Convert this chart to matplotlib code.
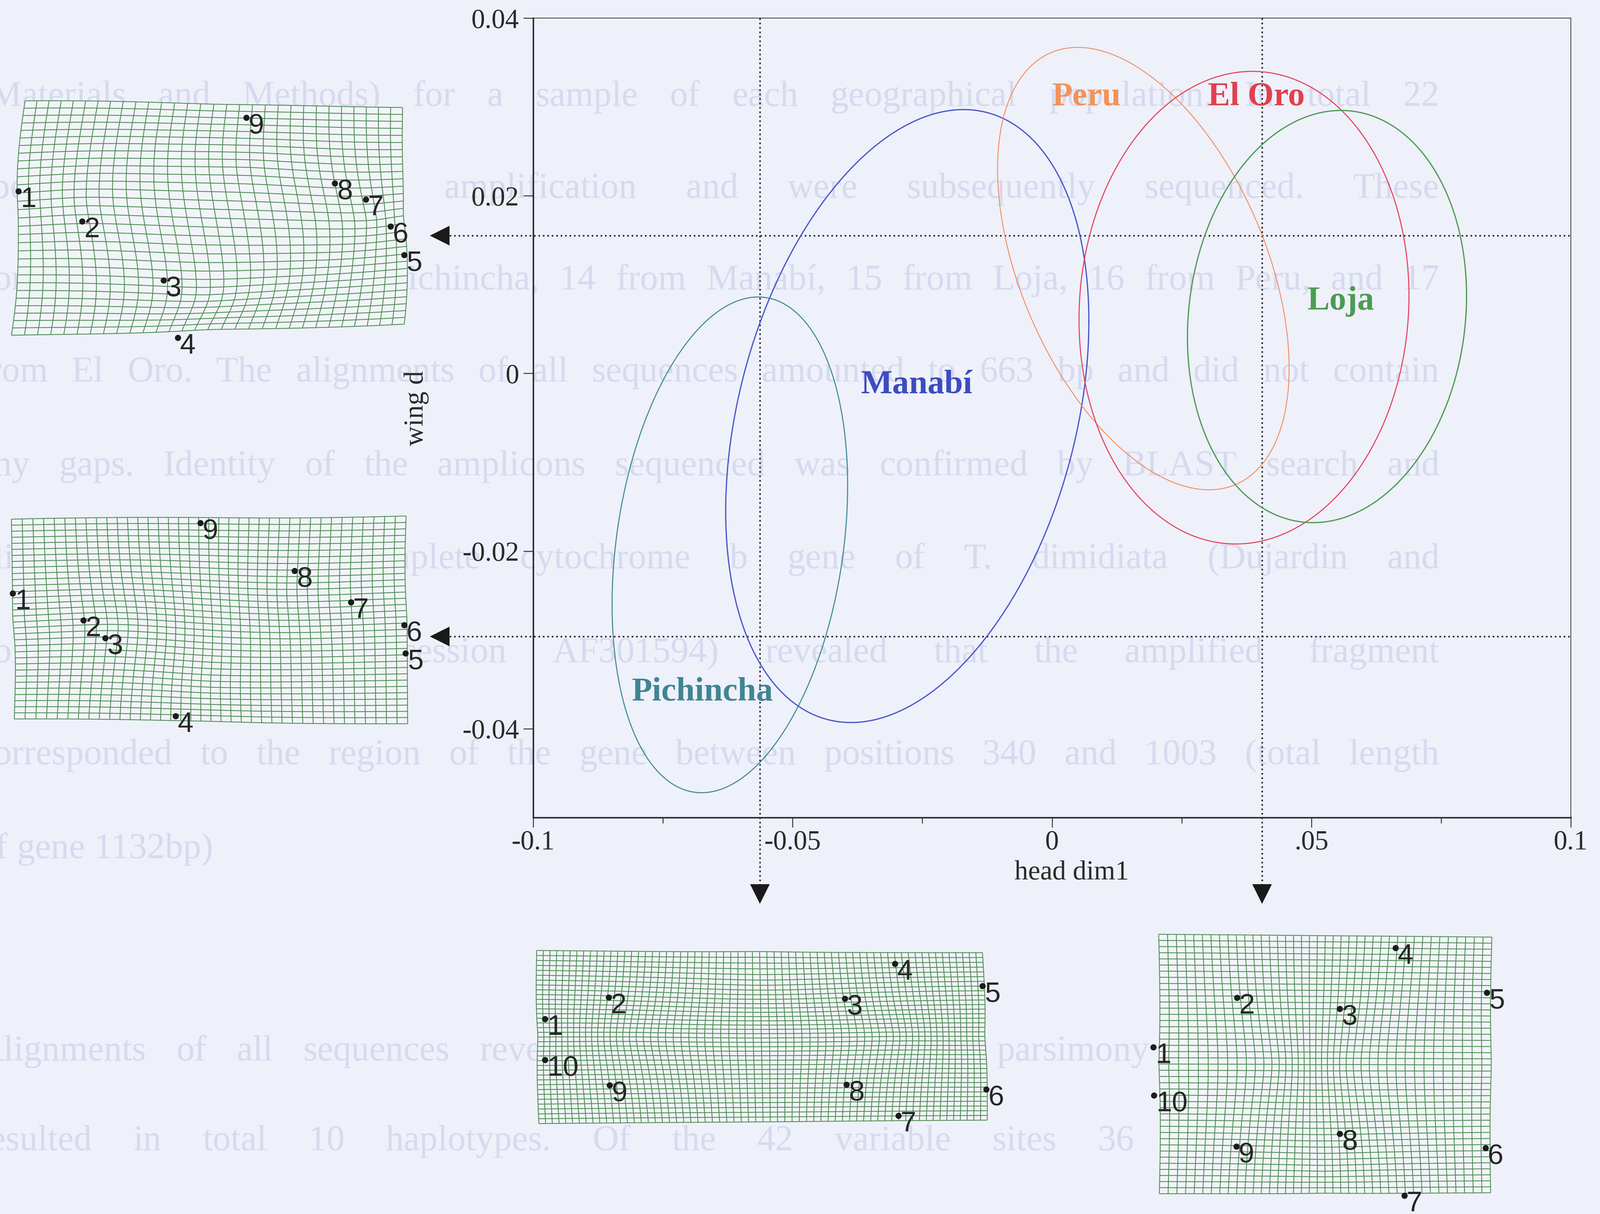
import numpy as np
import matplotlib
matplotlib.use("Agg")
import matplotlib.pyplot as plt
from matplotlib.collections import LineCollection
from matplotlib.patches import Polygon

FIG_W, FIG_H, DPI = 5047, 3828, 100
BG = "#eef0fa"
SERIF = ["Liberation Serif", "DejaVu Serif"]
SANS = ["Liberation Sans", "DejaVu Sans"]
plt.rcParams["font.family"] = SERIF

# ---------------------------------------------------------------
# Population ellipses in the head dim1 / wing plane
# x(t) = cx + hx*cos(t), y(t) = cy + hy*cos(t - acos(tilt))
# ---------------------------------------------------------------
populations = ["Pichincha", "Manabí", "Peru", "El Oro", "Loja"]
center_x = [-0.0621, -0.0279, 0.0176, 0.0370, 0.0530]
center_y = [-0.0193, -0.0048, 0.0118, 0.0074, 0.0064]
half_x = [0.0227, 0.0350, 0.0281, 0.0318, 0.0269]
half_y = [0.0279, 0.0345, 0.0249, 0.0266, 0.0232]
tilt = [0.24, 0.31, -0.45, 0.05, 0.10]
label_x = [-0.0674, -0.0261, 0.0066, 0.0394, 0.0556]
label_y = [-0.0359, -0.0013, 0.0311, 0.0311, 0.0081]
line_colors = ["#3f8c94", "#4b57c9", "#f28b5b", "#e4425d", "#4f9b58"]
label_colors = ["#3f8592", "#3c4cbf", "#f0935a", "#e0404f", "#4b9c52"]
line_widths = [2.4, 2.8, 2.0, 2.4, 2.8]

x_ticks = [-0.1, -0.05, 0, 0.05, 0.1]
x_tick_labels = ["-0.1", "-0.05", "0", ".05", "0.1"]
x_minor_ticks = [-0.075, -0.025, 0.025, 0.075]
y_ticks = [0.04, 0.02, 0, -0.02, -0.04]
y_tick_labels = ["0.04", "0.02", "0", "-0.02", "-0.04"]

# dotted guides pointing at the deformation grids
guide_x = [-0.0563, 0.0405]
guide_y = [0.0155, -0.0296]
guide_x_tip = -0.1199   # tip of the left-pointing arrowheads
guide_y_tip = -0.0597   # tip of the down-pointing arrowheads

# ---------------------------------------------------------------
# Deformation grids (figure pixel coordinates, y downward)
# corners: top-left, top-right, bottom-right, bottom-left
# ---------------------------------------------------------------
g1_corners = [(79, 318), (1270, 339), (1275, 1022), (36, 1057)]
g1_cells = (30, 30)
g1_lm_x = [58, 259, 516, 561, 1275, 1232, 1154, 1056, 777]
g1_lm_y = [603, 698, 884, 1065, 804, 714, 629, 578, 371]
g1_lm_id = [1, 2, 3, 4, 5, 6, 7, 8, 9]
g1_warp_src = [(0.45, 0.80), (0.88, 0.50), (0.20, 0.45), (0.60, 0.30)]
g1_warp_shift = [(0.035, 0.045), (0.035, 0.02), (-0.025, -0.02), (0.0, -0.02)]

g2_corners = [(36, 1637), (1281, 1627), (1286, 2282), (45, 2267)]
g2_cells = (38, 33)
g2_lm_x = [40, 263, 332, 554, 1279, 1275, 1107, 929, 632]
g2_lm_y = [1871, 1956, 2012, 2258, 2060, 1971, 1899, 1800, 1649]
g2_lm_id = [1, 2, 3, 4, 5, 6, 7, 8, 9]
g2_warp_src = [(0.22, 0.55), (0.72, 0.35), (0.50, 0.80)]
g2_warp_shift = [(0.03, -0.02), (-0.015, 0.02), (0.0, 0.015)]

g3_corners = [(1693, 2997), (3099, 3004), (3114, 3532), (1700, 3543)]
g3_cells = (64, 36)
g3_lm_x = [1719, 1920, 2665, 2823, 3099, 3111, 2834, 2670, 1923, 1719]
g3_lm_y = [3213, 3145, 3149, 3039, 3109, 3435, 3518, 3420, 3422, 3342]
g3_lm_id = [1, 2, 3, 4, 5, 6, 7, 8, 9, 10]
g3_warp_src = [(0.25, 0.5), (0.75, 0.5), (0.5, 0.15)]
g3_warp_shift = [(-0.03, 0.0), (0.03, 0.0), (0.0, 0.03)]

g4_corners = [(3655, 2946), (4706, 2955), (4702, 3761), (3657, 3764)]
g4_cells = (40, 42)
g4_lm_x = [3638, 3902, 4226, 4402, 4690, 4686, 4430, 4226, 3900, 3640]
g4_lm_y = [3302, 3146, 3181, 2989, 3130, 3620, 3770, 3575, 3615, 3454]
g4_lm_id = [1, 2, 3, 4, 5, 6, 7, 8, 9, 10]
g4_warp_src = [(0.30, 0.5), (0.62, 0.5), (0.5, 0.9)]
g4_warp_shift = [(0.04, 0.0), (-0.04, 0.0), (0.0, 0.01)]

# page text running behind the figure
page_lines = [
    "(Materials and Methods) for a sample of each geographical population. In total 22",
    "specimens produced an amplification and were subsequently sequenced. These",
    "corresponded to 13 from Pichincha, 14 from Manabí, 15 from Loja, 16 from Peru, and 17",
    "from El Oro. The alignments of all sequences amounted to 663 bp and did not contain",
    "any gaps. Identity of the amplicons sequenced was confirmed by BLAST search and",
    "alignment with the complete cytochrome b gene of T. dimidiata (Dujardin and",
    "colleagues, GenBank accession AF301594) revealed that the amplified fragment",
    "corresponded to the region of the gene between positions 340 and 1003 (total length",
    "of gene 1132bp)",
    "Alignments of all sequences revealed 42 variable sites, 3 parsimony informative, and",
    "resulted in total 10 haplotypes. Of the 42 variable sites 36 corresponded to",
]
page_line_y = [306, 596, 885, 1175, 1471, 1764, 2060, 2382, 2678, 3316, 3599]
page_justified = [True, True, True, True, True, True, True, True, False, True, True]
PAGE_LEFT, PAGE_RIGHT = -70, 4540
PAGE_COLOR = "#d7daee"
PAGE_SIZE = 82

GRID_COLOR = "#4f8b55"
GRID_FILL = "#f1f4f8"


def make_tps(src, dst):
    """Thin-plate spline mapping src -> dst (both n x 2)."""
    src = np.asarray(src, float)
    dst = np.asarray(dst, float)
    n = len(src)

    def kernel(a, b):
        d2 = ((a[:, None, :] - b[None, :, :]) ** 2).sum(-1)
        return np.where(d2 > 0, d2 * np.log(d2 + 1e-300), 0.0)

    L = np.zeros((n + 3, n + 3))
    L[:n, :n] = kernel(src, src)
    P = np.hstack([np.ones((n, 1)), src])
    L[:n, n:] = P
    L[n:, :n] = P.T
    Y = np.zeros((n + 3, 2))
    Y[:n] = dst
    coef = np.linalg.solve(L, Y)

    def f(pts):
        pts = np.asarray(pts, float)
        Pp = np.hstack([np.ones((len(pts), 1)), pts])
        return kernel(pts, src) @ coef[:n] + Pp @ coef[n:]

    return f


def bilinear(corners, uv):
    tl, tr, br, bl = [np.asarray(c, float) for c in corners]
    u = uv[:, :1]
    v = uv[:, 1:]
    return ((1 - u) * (1 - v) * tl + u * (1 - v) * tr
            + u * v * br + (1 - u) * v * bl)


def draw_grid(ax, corners, cells, warp_src, warp_shift, lm_x, lm_y, lm_id):
    unit = [(0, 0), (1, 0), (1, 1), (0, 1), (0.5, 0), (0.5, 1), (0, 0.5), (1, 0.5)]
    src = unit + list(warp_src)
    dst = unit + [(s[0] + d[0], s[1] + d[1]) for s, d in zip(warp_src, warp_shift)]
    warp = make_tps(src, dst)
    ncol, nrow = cells
    s = np.linspace(0, 1, 160)
    segs = []
    for i in range(ncol + 1):
        uv = np.column_stack([np.full_like(s, i / ncol), s])
        segs.append(bilinear(corners, warp(uv)))
    for j in range(nrow + 1):
        uv = np.column_stack([s, np.full_like(s, j / nrow)])
        segs.append(bilinear(corners, warp(uv)))
    # outline for the backing patch
    top = bilinear(corners, warp(np.column_stack([s, np.zeros_like(s)])))
    right = bilinear(corners, warp(np.column_stack([np.ones_like(s), s])))
    bottom = bilinear(corners, warp(np.column_stack([s[::-1], np.ones_like(s)])))
    left = bilinear(corners, warp(np.column_stack([np.zeros_like(s), s[::-1]])))
    outline = np.vstack([top, right, bottom, left])
    ax.add_patch(Polygon(outline, closed=True, facecolor=GRID_FILL,
                         edgecolor="none", zorder=2))
    ax.add_collection(LineCollection(segs, colors=GRID_COLOR, linewidths=1.9,
                                     zorder=3))
    ax.plot(lm_x, lm_y, "o", ms=13, color="#1c1c1c", zorder=5)
    for x, y, k in zip(lm_x, lm_y, lm_id):
        ax.annotate(str(k), (x, y), xytext=(5, 11), textcoords="offset points",
                    ha="left", va="top", fontsize=64, family=SANS,
                    color="#262626", zorder=6)


fig = plt.figure(figsize=(FIG_W / DPI, FIG_H / DPI), dpi=DPI, facecolor=BG)

# full-page layer in pixel coordinates
canvas = fig.add_axes([0, 0, 1, 1], zorder=0)
canvas.set_xlim(0, FIG_W)
canvas.set_ylim(FIG_H, 0)
canvas.axis("off")
canvas.set_facecolor("none")

renderer = fig.canvas.get_renderer()
space_px = PAGE_SIZE * DPI / 72 * 0.25
for y, line, just in zip(page_line_y, page_lines, page_justified):
    words = line.split()
    objs = [canvas.text(0, y, w, fontsize=PAGE_SIZE, family=SERIF,
                        color=PAGE_COLOR, ha="left", va="center", zorder=1)
            for w in words]
    widths = [o.get_window_extent(renderer).width for o in objs]
    gap = space_px
    if just and len(words) > 1:
        gap = max((PAGE_RIGHT - PAGE_LEFT - sum(widths)) / (len(words) - 1),
                  space_px * 0.8)
    x = PAGE_LEFT
    for o, w in zip(objs, widths):
        o.set_x(x)
        x += w + gap

for corners, cells, wsrc, wsh, lx, ly, lid in [
        (g1_corners, g1_cells, g1_warp_src, g1_warp_shift, g1_lm_x, g1_lm_y, g1_lm_id),
        (g2_corners, g2_cells, g2_warp_src, g2_warp_shift, g2_lm_x, g2_lm_y, g2_lm_id),
        (g3_corners, g3_cells, g3_warp_src, g3_warp_shift, g3_lm_x, g3_lm_y, g3_lm_id),
        (g4_corners, g4_cells, g4_warp_src, g4_warp_shift, g4_lm_x, g4_lm_y, g4_lm_id)]:
    draw_grid(canvas, corners, cells, wsrc, wsh, lx, ly, lid)

# ---------------------------------------------------------------
# main scatter plane
# ---------------------------------------------------------------
ax_left, ax_right, ax_top, ax_bottom = 1682, 4955, 57, 2578
ax = fig.add_axes([ax_left / FIG_W, 1 - ax_bottom / FIG_H,
                   (ax_right - ax_left) / FIG_W, (ax_bottom - ax_top) / FIG_H],
                  zorder=2)
ax.set_facecolor("none")
ax.set_xlim(-0.1, 0.1)
ax.set_ylim(-0.05, 0.04)

t = np.linspace(0, 2 * np.pi, 400)
for name, cx, cy, hx, hy, c, lc, tc, lw, lxp, lyp in zip(
        populations, center_x, center_y, half_x, half_y, tilt,
        line_colors, label_colors, line_widths, label_x, label_y):
    phi = np.arccos(c)
    ax.plot(cx + hx * np.cos(t), cy + hy * np.cos(t - phi), color=lc, lw=lw,
            zorder=3)
    ax.text(lxp, lyp, name, color=tc, fontsize=76, fontweight="bold",
            family=SERIF, ha="center", va="center", zorder=4)

# guides with arrowheads
px_per_x = (ax_right - ax_left) / 0.2
px_per_y = (ax_bottom - ax_top) / 0.09
head_px = 62
dot_style = dict(color="#262626", lw=3.6, ls=(0, (1, 1.8)), clip_on=False,
                 zorder=2, dash_capstyle="butt")
for gy in guide_y:
    x0 = guide_x_tip + head_px / px_per_x
    ax.plot([x0, 0.1], [gy, gy], **dot_style)
    ax.plot([guide_x_tip + 0.5 * head_px / px_per_x], [gy], marker="<",
            ms=head_px * 72 / DPI, color="#1a1a1a", mew=0, clip_on=False,
            zorder=5)
for gx in guide_x:
    y0 = guide_y_tip + head_px / px_per_y
    ax.plot([gx, gx], [0.04, y0], **dot_style)
    ax.plot([gx], [guide_y_tip + 0.5 * head_px / px_per_y], marker="v",
            ms=head_px * 72 / DPI, color="#1a1a1a", mew=0, clip_on=False,
            zorder=5)

# spines and ticks
for side in ["left", "bottom"]:
    ax.spines[side].set_linewidth(3.4)
for side in ["top", "right"]:
    ax.spines[side].set_linewidth(1.6)
for sp in ax.spines.values():
    sp.set_color("#2b2b2b")

ax.set_xticks(x_ticks)
ax.set_xticklabels(x_tick_labels)
ax.set_xticks(x_minor_ticks, minor=True)
ax.set_yticks(y_ticks)
ax.set_yticklabels(y_tick_labels)
ax.tick_params(axis="x", which="major", direction="out", length=22, width=2,
               pad=6, labelsize=62, colors="#2b2b2b")
ax.tick_params(axis="x", which="minor", direction="out", length=13, width=2,
               colors="#2b2b2b")
ax.tick_params(axis="y", which="major", direction="out", length=22, width=2,
               pad=10, labelsize=62, colors="#2b2b2b")
for lbl in ax.get_xticklabels() + ax.get_yticklabels():
    lbl.set_color("#2b2b2b")

ax.set_xlabel("head dim1", fontsize=62, color="#2b2b2b", va="center")
ax.xaxis.set_label_coords((3380 - ax_left) / (ax_right - ax_left),
                          (ax_bottom - 2752) / (ax_bottom - ax_top))
ax.set_ylabel("wing d", fontsize=62, color="#2b2b2b", va="center")
ax.yaxis.set_label_coords((1313 - ax_left) / (ax_right - ax_left),
                          (ax_bottom - 1288) / (ax_bottom - ax_top))

fig.savefig("out.png", dpi=DPI, facecolor=BG)
